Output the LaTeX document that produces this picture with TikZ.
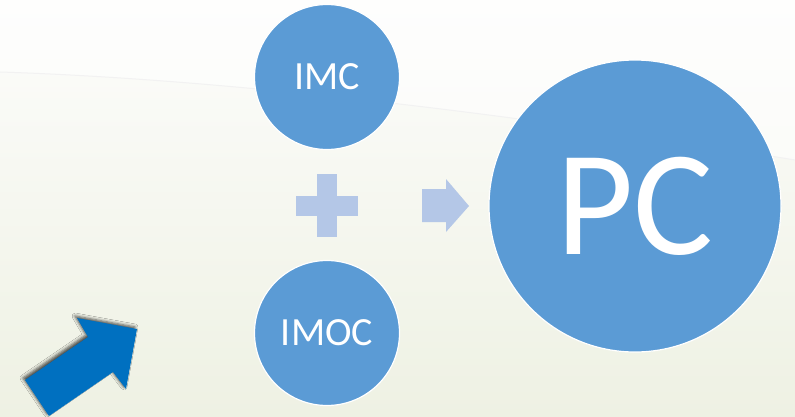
\documentclass[tikz,border=0pt]{standalone}
\usepackage{fontspec}
\setmainfont{Carlito}
\usetikzlibrary{shadows.blur}
\definecolor{circblue}{HTML}{5B9BD5}
\definecolor{paleblue}{HTML}{B4C7E7}
\definecolor{deepblue}{HTML}{0070C0}
\definecolor{bgtop}{HTML}{FDFDFC}
\definecolor{bgmid}{HTML}{F6FAF8}
\definecolor{bgbot}{HTML}{EEF1E3}
\begin{document}
\begin{tikzpicture}[x=1pt, y=-1pt,
    bubble/.style={circle, fill=circblue, draw=white, line width=1.2pt, text=white, inner sep=0pt}]
    \useasboundingbox (0,0) rectangle (795,417);
    \clip (0,0) rectangle (795,417);
    % background
    \shade[top color=bgtop, middle color=bgmid, bottom color=bgbot] (0,0) rectangle (795,417);
    \fill[white, opacity=0.5] (0,0) -- (0,72) .. controls (250,80) and (550,120) .. (795,160) -- (795,0) -- cycle;
    \draw[black!5, line width=1pt] (0,72) .. controls (250,80) and (550,120) .. (795,160);
    % circles
    \node (imc) [bubble, minimum size=145pt] at (327,77) {\fontsize{40}{40}\selectfont IMC};
    \node (imoc) [bubble, minimum size=145pt] at (327,333) {\fontsize{40}{40}\selectfont IMOC};
    \node (pc) [bubble, minimum size=292pt] at (635,206) {\fontsize{150}{150}\selectfont PC};
    % plus and arrow
    \fill[paleblue] (317,174) rectangle (337,237);
    \fill[paleblue] (296,196) rectangle (358,216);
    \fill[paleblue] (422,189) -- (446,189) -- (446,179) -- (469,206) -- (446,232) -- (446,222) -- (422,222) -- cycle;
    % blue arrow
    \fill[deepblue, blur shadow={shadow xshift=-2pt, shadow yshift=2pt, shadow blur radius=3pt, shadow opacity=70}]
        (25,380) -- (88,337) -- (77,318) -- (137,329) -- (126,389) -- (113,372) -- (49,416) -- cycle;
\end{tikzpicture}
\end{document}
